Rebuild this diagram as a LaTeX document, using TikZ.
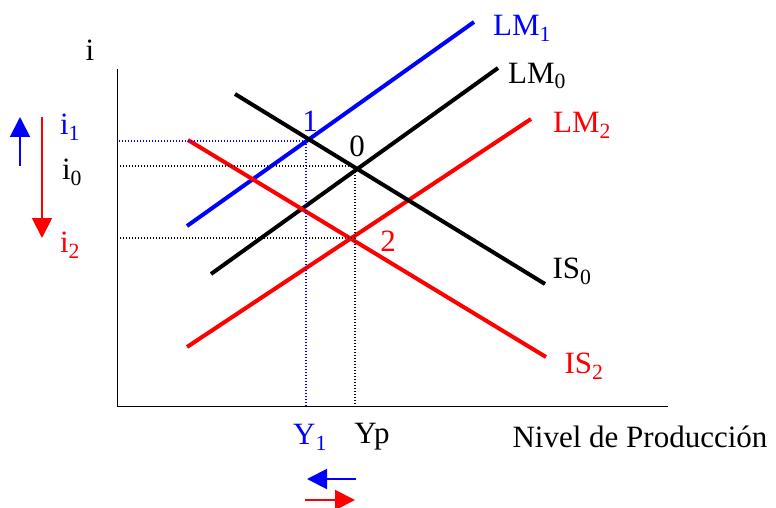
\documentclass[tikz,border=0pt]{standalone}
\usepackage{fontspec}
\setmainfont{Liberation Serif}
\usetikzlibrary{arrows.meta}
\definecolor{myblue}{RGB}{0,0,255}
\definecolor{myred}{RGB}{255,0,0}
\begin{document}
\begin{tikzpicture}[x=1pt,y=-1pt,
  curve/.style={line width=4pt},
  guide/.style={line width=1.2pt,dash pattern=on 1.2pt off 1.8pt},
  lab/.style={font=\fontsize{31}{34}\selectfont,inner sep=0pt},
  movearrow/.style={line width=2pt,-{Triangle[length=20pt,width=20pt]}}]
\useasboundingbox (0,0) rectangle (776,508);
% axes
\coordinate (o) at (117,406);
\coordinate (ytop) at (117,69);
\coordinate (xend) at (668,406);
\draw[line width=1pt] (ytop) -- (o) -- (xend);
% curves
\draw[curve,myblue] (187,226) -- (474,22);
\draw[curve,black] (211,274) -- (498,68);
\draw[curve,myred] (187,347) -- (531,119);
\draw[curve,black] (235,94) -- (545,284);
\draw[curve,myred] (188,140) -- (546,357);
\coordinate (p1) at (306,141);
\coordinate (p0) at (355,166);
\coordinate (p2) at (355,238);
% guides
\draw[guide,myblue] (p1) -- (o |- p1);
\draw[guide,myblue] (p1) -- (p1 |- o);
\draw[guide] (p0) -- (o |- p0);
\draw[guide] (p0) -- (p0 |- o);
\draw[guide] (p2) -- (o |- p2);
% labels
\node[lab] (ilab) at (90,50) {i};
\node[lab,myblue] (l1) at (522,28) {LM\textsubscript{1}};
\node[lab] (l0) at (537,76) {LM\textsubscript{0}};
\node[lab,myred] (l2) at (582,125) {LM\textsubscript{2}};
\node[lab] (s0) at (572,271) {IS\textsubscript{0}};
\node[lab,myred] (s2) at (584,366) {IS\textsubscript{2}};
\node[lab,myblue] (n1) at (310,121) {1};
\node[lab] (n0) at (357,146) {0};
\node[lab,myred] (n2) at (388,241) {2};
\node[lab,myblue] (i1) at (70,127) {i\textsubscript{1}};
\node[lab] (i0) at (72,172) {i\textsubscript{0}};
\node[lab,myred] (i2) at (70,245) {i\textsubscript{2}};
\node[lab,myblue] (y1) at (310,437) {Y\textsubscript{1}};
\node[lab] (yp) at (372,437) {Yp};
\node[lab] (nivel) at (640,437) {Nivel de Producción};
% shift arrows
\coordinate (ua) at (20,166);
\coordinate (ub) at (20,117);
\draw[movearrow,myblue] (ua) -- (ub);
\coordinate (da) at (42,117);
\coordinate (db) at (42,238);
\draw[movearrow,myred] (da) -- (db);
\coordinate (la) at (356,479);
\coordinate (lb) at (307,479);
\draw[movearrow,myblue] (la) -- (lb);
\coordinate (ra) at (305,500);
\coordinate (rb) at (355,500);
\draw[movearrow,myred] (ra) -- (rb);
\end{tikzpicture}
\end{document}
